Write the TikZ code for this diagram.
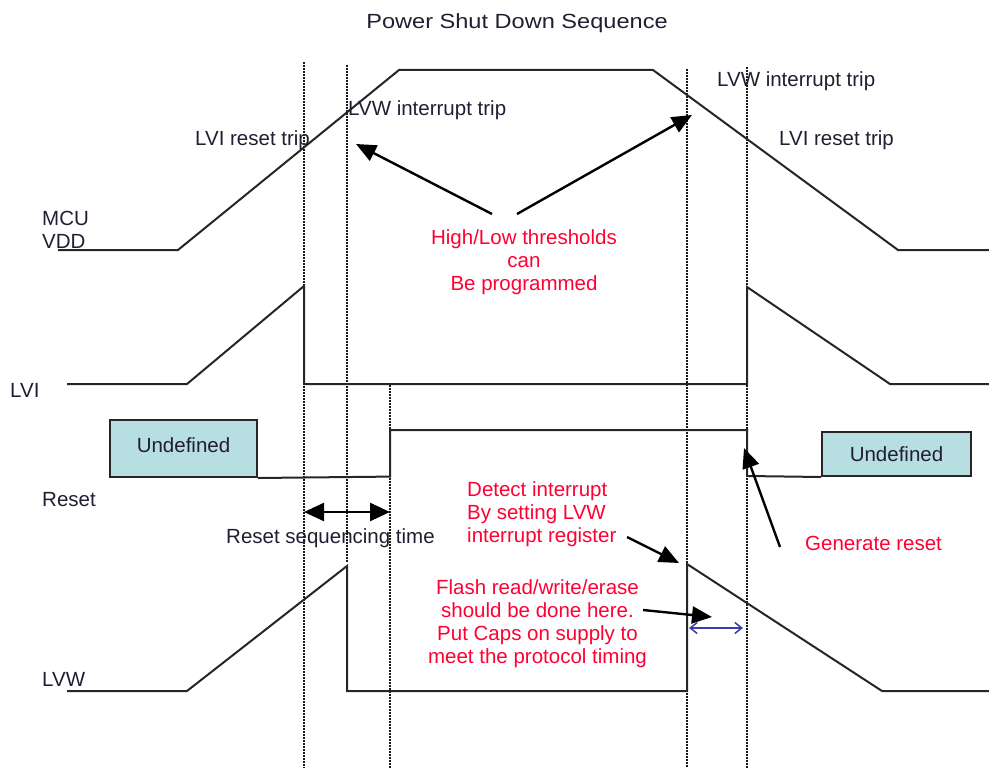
\documentclass[tikz,border=0pt]{standalone}
\usepackage{fontspec}
\setmainfont{Liberation Sans}
\usetikzlibrary{arrows.meta}
\definecolor{ink}{RGB}{34,30,50}
\definecolor{redtxt}{RGB}{255,0,51}
\definecolor{undef}{RGB}{183,222,225}
\definecolor{bluearr}{RGB}{60,60,170}
\begin{document}
\begin{tikzpicture}[x=1pt,y=-1pt,
  wave/.style={line width=2pt, draw=black!85, line join=miter},
  guide/.style={line width=2.2pt, draw=black!90, dash pattern=on 1.8pt off 1.2pt},
  lbl/.style={inner sep=0pt, anchor=base west, text=ink, font=\fontsize{20.5}{23}\selectfont},
  note/.style={inner sep=0pt, text=redtxt, font=\fontsize{20.5}{23.3}\selectfont},
  callout/.style={line width=2.4pt, draw=black, -{Triangle[length=20pt,width=17pt]}},
  twoway/.style={line width=2.4pt, draw=black, {Triangle[length=20pt,width=18pt]}-{Triangle[length=20pt,width=18pt]}},
  bluetwo/.style={line width=1.5pt, draw=bluearr, {Straight Barb[length=7pt,width=11pt]}-{Straight Barb[length=7pt,width=11pt]}},
  undefbox/.style={draw=black!85, line width=2pt, fill=undef, inner sep=0pt, text=ink, font=\fontsize{20.5}{23}\selectfont}
]
\useasboundingbox (0,0) rectangle (989,768);

% title
\node[inner sep=0pt, anchor=base, text=ink, font=\fontsize{20.5}{23}\selectfont] (title) at (517,28.5) {\scalebox{1.15}[1]{Power Shut Down Sequence}};

% dotted guide lines
\coordinate (g1t) at (304,62);  \coordinate (g1b) at (304,768);
\coordinate (g2t) at (347,65);  \coordinate (g2b) at (347,562);
\coordinate (g3t) at (390,385); \coordinate (g3b) at (390,768);
\coordinate (g4t) at (687,69);  \coordinate (g4b) at (687,768);
\coordinate (g5t) at (747,67);  \coordinate (g5b) at (747,768);
\draw[guide] (g1t) -- (g1b);
\draw[guide] (g2t) -- (g2b);
\draw[guide] (g3t) -- (g3b);
\draw[guide] (g4t) -- (g4b);
\draw[guide] (g5t) -- (g5b);

% MCU VDD waveform
\draw[wave] (58,250) -- (178,250) -- (399,70) -- (653,70) -- (898,250) -- (989,250);
% LVI waveform
\draw[wave] (67,384) -- (187,384) -- (304,286) -- (304,384) -- (747,384) -- (747,287) -- (890,384) -- (989,384);
% Reset waveform
\node[undefbox, minimum width=147pt, minimum height=57pt, text depth=6pt] (u1) at (183.5,448.5) {Undefined};
\node[undefbox, minimum width=149pt, minimum height=44pt] (u2) at (896.5,454) {Undefined};
\draw[wave] (u1.south east) -- (390,476.6) -- (390,430) -- (747,430) -- (747,476) -- (u2.south west);
% LVW waveform
\draw[wave] (67,691) -- (187,691) -- (347,566) -- (347,691) -- (687,691) -- (687,564) -- (882,691) -- (989,691);

% signal labels
\node[inner sep=0pt, anchor=north west, align=left, text=ink, font=\fontsize{20.5}{23}\selectfont] (mcu) at (42,211) {MCU\\VDD};
\node[lbl] (lvi) at (10,397) {LVI};
\node[lbl] (rst) at (42,506) {Reset};
\node[lbl] (lvw) at (42,686) {LVW};

% trip labels
\node[lbl] (lvitrip1) at (195,145) {LVI reset trip};
\node[lbl] (lvwtrip1) at (348,116) {LVW interrupt trip};
\node[lbl] (lvwtrip2) at (717,87) {LVW interrupt trip};
\node[lbl] (lvitrip2) at (779,145) {LVI reset trip};

% thresholds note
\node[note, anchor=north, align=center] (thr) at (524,229) {High/Low thresholds\\can\\Be programmed};
\coordinate (t1) at (492,214); \coordinate (h1) at (356,144);
\coordinate (t2) at (517,214); \coordinate (h2) at (692,115);
\draw[callout] (t1) -- (h1);
\draw[callout] (t2) -- (h2);

% reset sequencing time
\coordinate (rsa) at (304,512); \coordinate (rsb) at (390,512);
\draw[twoway] (rsa) -- (rsb);
\node[lbl] (rstime) at (226,543) {Reset sequencing time};

% detect interrupt
\node[note, anchor=north west, align=left] (det) at (467,481) {Detect interrupt\\By setting LVW\\interrupt register};
\coordinate (t3) at (627,537); \coordinate (h3) at (679,563);
\draw[callout] (t3) -- (h3);

% flash note
\node[note, anchor=north, align=center] (flash) at (537.5,579) {Flash read/write/erase\\should be done here.\\Put Caps on supply to\\meet the protocol timing};
\coordinate (t4) at (643,610); \coordinate (h4) at (712,617);
\draw[callout] (t4) -- (h4);
\coordinate (ba) at (689,628); \coordinate (bb) at (743,628);
\draw[bluetwo] (ba) -- (bb);

% generate reset
\node[note, anchor=base west] (gen) at (805,550) {Generate reset};
\coordinate (t5) at (780,547); \coordinate (h5) at (744,448);
\draw[callout] (t5) -- (h5);
\end{tikzpicture}
\end{document}
